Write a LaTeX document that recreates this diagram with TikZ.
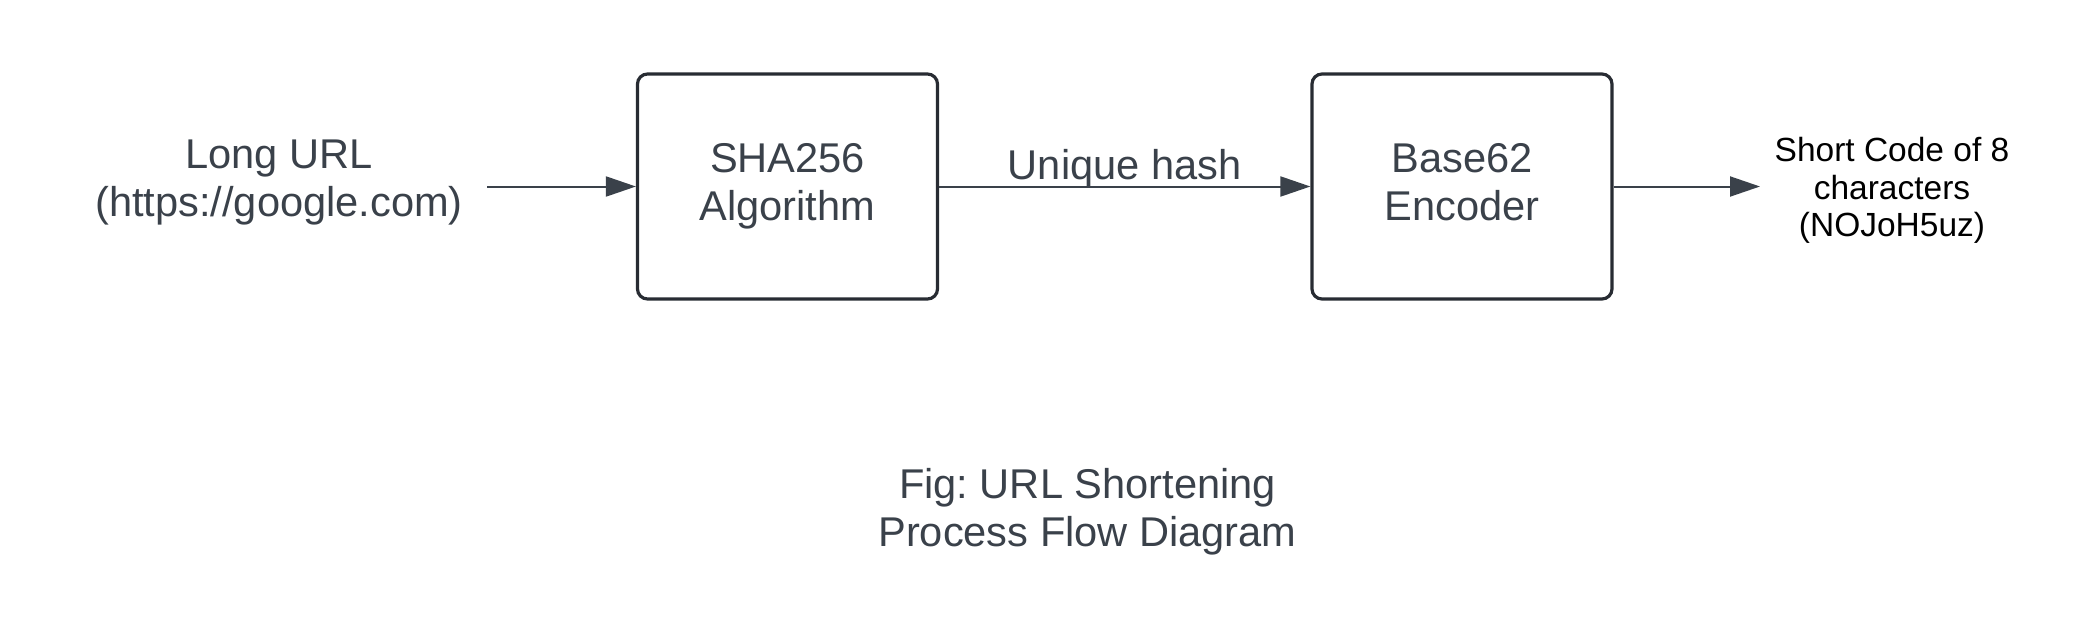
\documentclass[tikz,border=0pt]{standalone}
\usepackage{fontspec}
\setmainfont{Liberation Sans}
\usetikzlibrary{arrows.meta}

\definecolor{ink}{HTML}{3A414A}
\definecolor{rim}{HTML}{282C33}

\frenchspacing

\begin{document}
\begin{tikzpicture}[x = .5pt, y = -.5pt,
	txt/.style = {inner sep=0pt, align=center, text=ink, font=\fontsize{20.8}{24}\selectfont},
	small/.style = {inner sep=0pt, align=center, text=black, font=\fontsize{16.75}{18.75}\selectfont},
	box/.style = {txt, draw=rim, line width=1.6pt, rounded corners=5pt, minimum width=150pt, minimum height=112.5pt},
	flow/.style = {draw=ink, line width=1pt, -{Triangle[length=15pt, width=10pt]}}]
	\useasboundingbox (0,0) rectangle (2100,643);

	\node[txt] (long) at (279, 183.2) {\strut Long URL\\\strut (https://google.com)};
	\node[box] (sha) at (787.5, 186.5) {\strut SHA256\\\strut Algorithm};
	\node[box] (b62) at (1462, 186.5) {\strut Base62\\\strut Encoder};
	\node[small] (short) at (1892, 191.7) {\strut Short Code of 8\\\strut characters\\\strut (NOJoH5uz)};
	\node[txt] (fig) at (1087.5, 513.2) {\strut Fig: URL Shortening\\\strut Process Flow Diagram};

	\coordinate (in) at (487, 186.5);
	\coordinate (out) at (1760, 186.5);

	\draw[flow] (in) -- (sha);
	\draw[flow] (sha) -- node[txt, above, inner sep=0pt, yshift=-1.3pt] (hash) {Unique hash} (b62);
	\draw[flow] (b62) -- (out);
\end{tikzpicture}
\end{document}
